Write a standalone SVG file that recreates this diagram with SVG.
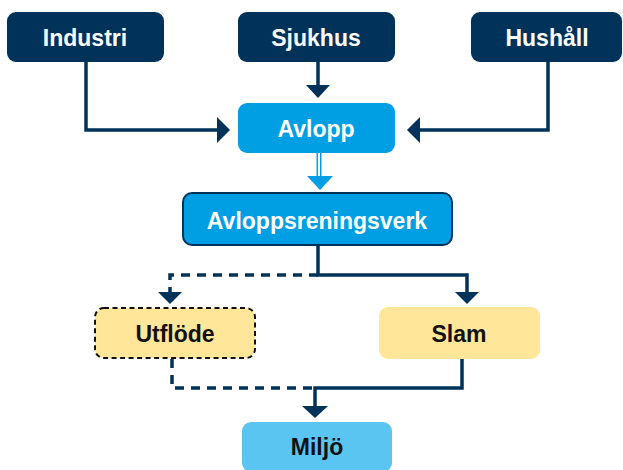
<svg xmlns="http://www.w3.org/2000/svg" width="623" height="470" viewBox="0 0 623 470">
<defs>
<style>
.dark{fill:#00325a}
.blue{fill:#009fe3}
.yel{fill:#ffe699}
.sky{fill:#5bc5f2}
text{font-family:"Liberation Sans",Arial,sans-serif;font-weight:bold;font-size:23px;text-anchor:middle}
.w{fill:#ffffff}
.k{fill:#111111}
.ln{fill:none;stroke:#00325a;stroke-width:3.5}
.dash{stroke-dasharray:9 7}
.ah{fill:#00325a}
</style>
</defs>
<rect width="623" height="470" fill="#ffffff"/>
<g id="connectors">
<polyline class="ln" points="86,62 86,130 218,130"/>
<polygon class="ah" points="217,117 230,130 217,143"/>
<line class="ln" x1="318" y1="62" x2="318" y2="86"/>
<polygon class="ah" points="306,85 330,85 318,98"/>
<polyline class="ln" points="548,62 548,130 411,130"/>
<polygon class="ah" points="420,117 407,130 420,143"/>
<line x1="319" y1="153" x2="319" y2="178" stroke="#009fe3" stroke-width="5"/>
<line x1="319" y1="153" x2="319" y2="178" stroke="#ffffff" stroke-width="2"/>
<polygon fill="#009fe3" points="307,176 333,176 320,190"/>
<polyline class="ln" points="318,245 318,275 467,275 467,293"/>
<polygon class="ah" points="455,292 479,292 467,304"/>
<polyline class="ln dash" points="318,275 170,275 170,293"/>
<polygon class="ah" points="158,292 182,292 170,304"/>
<polyline class="ln dash" points="172,359 172,388 313,388"/>
<polyline class="ln" points="462,359 462,388 315,388 315,407"/>
<polygon class="ah" points="302,406 328,406 315,418"/>
</g>
<g id="industri"><rect class="dark" x="7" y="12" width="157" height="50" rx="9"/><text class="w" x="85" y="46">Industri</text></g>
<g id="sjukhus"><rect class="dark" x="238" y="12" width="157" height="50" rx="9"/><text class="w" x="316" y="46">Sjukhus</text></g>
<g id="hushall"><rect class="dark" x="471" y="12" width="151" height="50" rx="9"/><text class="w" x="547" y="46">Hushåll</text></g>
<g id="avlopp"><rect class="blue" x="238" y="103" width="157" height="50" rx="9"/><text class="w" x="316" y="137">Avlopp</text></g>
<g id="avloppsreningsverk"><rect class="blue" x="183" y="193" width="269" height="52" rx="9" stroke="#00325a" stroke-width="2"/><text class="w" x="317" y="229">Avloppsreningsverk</text></g>
<g id="utflode"><rect class="yel" x="95" y="308" width="160" height="50" rx="9" stroke="#111111" stroke-width="2" stroke-dasharray="5 3.5"/><text class="k" x="175" y="342">Utflöde</text></g>
<g id="slam"><rect class="yel" x="379" y="307" width="161" height="52" rx="9"/><text class="k" x="459" y="342">Slam</text></g>
<g id="miljo"><rect class="sky" x="242" y="422" width="150" height="50" rx="9"/><text class="k" x="317" y="455">Miljö</text></g>
</svg>
